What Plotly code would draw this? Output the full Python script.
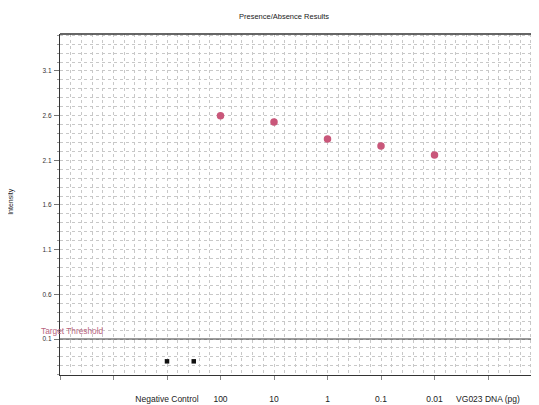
import plotly.graph_objects as go

# ---- data ----
x_labels = ["Negative Control", "100", "10", "1", "0.1", "0.01", "VG023 DNA (pg)"]
dna_pg = ["100", "10", "1", "0.1", "0.01"]
dna_intensity = [2.60, 2.53, 2.34, 2.26, 2.16]
neg_control_intensity = [-0.15, -0.15]
y_tick_values = [0.1, 0.6, 1.1, 1.6, 2.1, 2.6, 3.1]
y_tick_text = ["0.1", "0.6", "1.1", "1.6", "2.1", "2.6", "3.1"]
threshold = 0.1
threshold_label = "Target Threshold"
title_text = "Presence/Absence Results"
y_title = "Intensity"

# ---- layout constants ----
LEAD = 2            # empty category slots before the first label
REP_STEP = 0.5      # spacing between negative-control replicates
FONT = "Liberation Sans, Arial, sans-serif"
GRID = "#c8c8c8"

label_pos = [LEAD + i for i in range(len(x_labels))]
dna_x = [LEAD + x_labels.index(c) for c in dna_pg]
neg_x = [LEAD + x_labels.index("Negative Control") + i * REP_STEP
         for i in range(len(neg_control_intensity))]

fig = go.Figure()
fig.add_trace(go.Scatter(
    x=dna_x, y=dna_intensity, mode="markers",
    marker=dict(symbol="circle", size=7.5, color="#c9577a",
                line=dict(width=0)),
    showlegend=False, hoverinfo="skip"))
fig.add_trace(go.Scatter(
    x=neg_x, y=neg_control_intensity, mode="markers",
    marker=dict(symbol="square", size=4.5, color="#111111",
                line=dict(width=0)),
    showlegend=False, hoverinfo="skip"))

# threshold line
fig.add_shape(type="line", xref="paper", x0=0, x1=1, yref="y",
              y0=threshold, y1=threshold,
              line=dict(color="#3a3a3a", width=1.2))
# top border
fig.add_shape(type="line", xref="paper", x0=0, x1=1, yref="paper",
              y0=1, y1=1, line=dict(color="#333333", width=1.3))

fig.add_annotation(text=threshold_label, xref="paper", yref="y",
                   x=-0.044, y=threshold + 0.09, xanchor="left",
                   yanchor="middle", showarrow=False,
                   font=dict(family=FONT, size=8.3, color="#b86580"))
fig.add_annotation(text=title_text, xref="paper", yref="paper",
                   x=0.468, y=1, yshift=18, xanchor="center",
                   yanchor="middle", showarrow=False,
                   font=dict(family=FONT, size=7.5, color="#222222"))
fig.add_annotation(text=y_title, xref="paper", yref="paper",
                   x=-0.1, xshift=-1, y=0.508, textangle=-90,
                   xanchor="center", yanchor="middle", showarrow=False,
                   font=dict(family=FONT, size=7, color="#222222"))

fig.update_xaxes(
    range=[0, 479 / 53.5],
    tickmode="array", tickvals=[0, 1] + label_pos,
    ticktext=["", ""] + x_labels,
    ticks="outside", ticklen=4, tickcolor="#888888", tickwidth=1,
    ticklabelstandoff=12,
    tickfont=dict(family=FONT, size=8.5, color="#222222"),
    showline=True, linecolor="#333333", linewidth=1.3,
    showgrid=True, gridcolor=GRID, griddash="dot", gridwidth=1,
    minor=dict(dtick=0.2, tick0=0, showgrid=True, gridcolor=GRID,
               griddash="dot", gridwidth=1, ticks=""),
    zeroline=False, fixedrange=True, automargin=False)

fig.update_yaxes(
    range=[-0.303, 3.514],
    tickmode="array", tickvals=y_tick_values, ticktext=y_tick_text,
    ticks="outside", ticklen=5, tickcolor="#777777", tickwidth=1,
    ticklabelstandoff=1,
    tickfont=dict(family=FONT, size=6.5, color="#333333"),
    showline=True, linecolor="#333333", linewidth=1.3,
    showgrid=True, gridcolor=GRID, griddash="dot", gridwidth=1,
    minor=dict(dtick=0.1, tick0=0.1, showgrid=True, gridcolor=GRID,
               griddash="dot", gridwidth=1, ticks="outside", ticklen=2,
               tickcolor="#999999"),
    zeroline=False, fixedrange=True, automargin=False)

# page body has an 8px margin; compensate so the plot area lands at
# x 60..539, y 34..375 in the window
fig.update_layout(
    width=531, height=397,
    margin=dict(l=52, r=0, t=26, b=30),
    paper_bgcolor="white", plot_bgcolor="white",
    showlegend=False,
)

fig.write_html("out.html")
